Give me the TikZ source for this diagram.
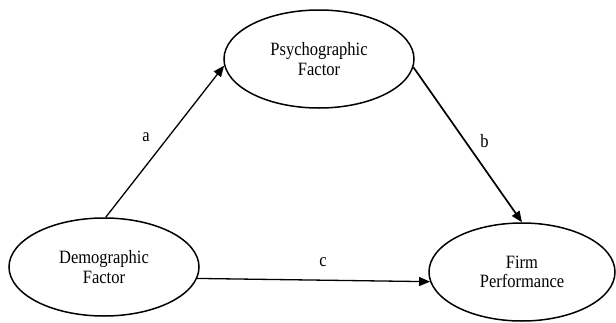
\documentclass[tikz,border=0pt]{standalone}
\usepackage{fontspec}
\usepackage{graphicx}
\setmainfont{Liberation Serif}
\usetikzlibrary{arrows.meta,shapes.geometric}
\newcommand{\tallt}[1]{\scalebox{1}[1.14]{#1}}
\begin{document}
\begin{tikzpicture}[x=1pt,y=-1pt,
  factor/.style={draw,ellipse,line width=1.5pt,inner sep=0pt,align=center,
    font=\fontsize{16.5}{19.3}\selectfont},
  lbl/.style={font=\fontsize{16.5}{19}\selectfont,inner sep=0pt},
  conn/.style={line width=1.3pt,-{Triangle[length=11pt,width=9pt]}}]
\useasboundingbox (0,0) rectangle (616,322);
\node[factor,minimum width=190pt,minimum height=98pt] (P) at (319,59) {\tallt{Psychographic}\\\tallt{Factor}};
\node[factor,minimum width=190pt,minimum height=98pt] (D) at (104,267) {\tallt{Demographic}\\\tallt{Factor}};
\node[factor,minimum width=186pt,minimum height=98pt] (F) at (522,272) {\tallt{Firm}\\\tallt{Performance}};
\draw[conn] (D.88) -- (P.184);
\draw[conn,line width=1.7pt] (P.-5) -- (F.north);
\draw[conn] (D.-7) -- (F.186);
\node[lbl] (la) at (146,137) {\tallt{a}};
\node[lbl] (lb) at (484.5,141) {\tallt{b}};
\node[lbl] (lc) at (323,262) {\tallt{c}};
\end{tikzpicture}
\end{document}
